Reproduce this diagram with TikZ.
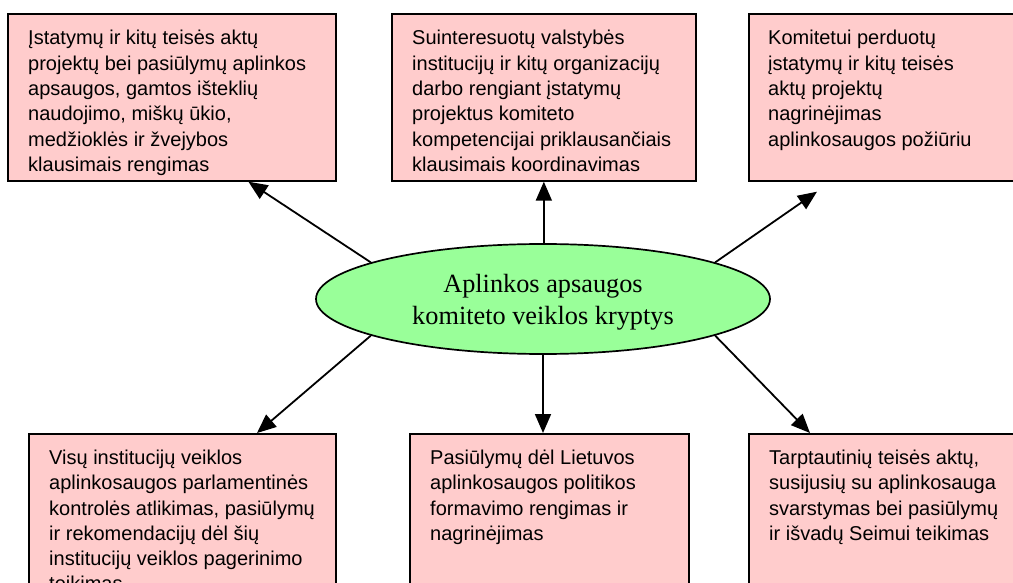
\documentclass[tikz,border=0pt]{standalone}
\usepackage{fontspec}
\setmainfont{Liberation Sans}
\newfontfamily\serifface{Liberation Serif}
\usetikzlibrary{arrows.meta,calc,shapes.geometric}
\definecolor{boxpink}{HTML}{FFCCCC}
\definecolor{hubgreen}{HTML}{99FF99}

\begin{document}
\begin{tikzpicture}[x=1pt,y=-1pt,
  areabox/.style={rectangle, draw=black, line width=1.7pt, fill=boxpink,
    anchor=north west, inner sep=0pt, minimum height=167pt},
  boxtext/.style={anchor=north west, inner sep=0pt, align=left,
    font=\fontsize{20}{25.3}\selectfont},
  hub/.style={ellipse, draw=black, line width=1.7pt, fill=hubgreen,
    minimum width=454pt, minimum height=110pt, inner sep=0pt, align=center,
    font=\serifface\fontsize{26.3}{31.7}\selectfont},
  arr/.style={line width=1.8pt, -{Triangle[length=19pt,width=16pt]}}]

\useasboundingbox (0,0) rectangle (1013,583);
\clip (0,0) rectangle (1013,583);

% central ellipse
\node[hub] (hub) at (543,299)
  {\rule{0pt}{24pt}Aplinkos apsaugos\\komiteto veiklos kryptys};

% upper row of boxes
\node[areabox, minimum width=328pt] (b1) at (7,13) {};
\node[areabox, minimum width=304pt] (b2) at (391,13) {};
\node[areabox, minimum width=272pt] (b3) at (748,13) {};

% lower row of boxes
\node[areabox, minimum width=307pt] (b4) at (28,433) {};
\node[areabox, minimum width=279pt] (b5) at (409,433) {};
\node[areabox, minimum width=272pt] (b6) at (748,433) {};

% box texts
\node[boxtext] (t1) at ($(b1.north west)+(21,14)$)
  {\strut Įstatymų ir kitų teisės aktų\\
   projektų bei pasiūlymų aplinkos\\
   apsaugos, gamtos išteklių\\
   naudojimo, miškų ūkio,\\
   medžioklės ir žvejybos\\
   klausimais rengimas};
\node[boxtext] (t2) at ($(b2.north west)+(21,14)$)
  {\strut Suinteresuotų valstybės\\
   institucijų ir kitų organizacijų\\
   darbo rengiant įstatymų\\
   projektus komiteto\\
   kompetencijai priklausančiais\\
   klausimais koordinavimas};
\node[boxtext] (t3) at ($(b3.north west)+(20,14)$)
  {\strut Komitetui perduotų\\
   įstatymų ir kitų teisės\\
   aktų projektų\\
   nagrinėjimas\\
   aplinkosaugos požiūriu};
\node[boxtext] (t4) at ($(b4.north west)+(21,13.5)$)
  {\strut Visų institucijų veiklos\\
   aplinkosaugos parlamentinės\\
   kontrolės atlikimas, pasiūlymų\\
   ir rekomendacijų dėl šių\\
   institucijų veiklos pagerinimo\\
   teikimas};
\node[boxtext] (t5) at ($(b5.north west)+(21,13.5)$)
  {\strut Pasiūlymų dėl Lietuvos\\
   aplinkosaugos politikos\\
   formavimo rengimas ir\\
   nagrinėjimas};
\node[boxtext] (t6) at ($(b6.north west)+(21,13.5)$)
  {\strut Tarptautinių teisės aktų,\\
   susijusių su aplinkosauga\\
   svarstymas bei pasiūlymų\\
   ir išvadų Seimui teikimas};

% arrows from the ellipse to the boxes
\draw[arr] (hub.168) -- ($(b1.south west)+(241.4,0)$);
\draw[arr] (hub.north -| b2.south) -- (b2.south);
\draw[arr] (hub.12) -- ($(b3.south west)+(69,10)$);
\draw[arr] (hub.192) -- ($(b4.north west)+(229,0)$);
\draw[arr] (hub.south) -- (hub.south |- b5.north);
\draw[arr] (hub.348) -- ($(b6.north west)+(62,0)$);
\end{tikzpicture}
\end{document}
